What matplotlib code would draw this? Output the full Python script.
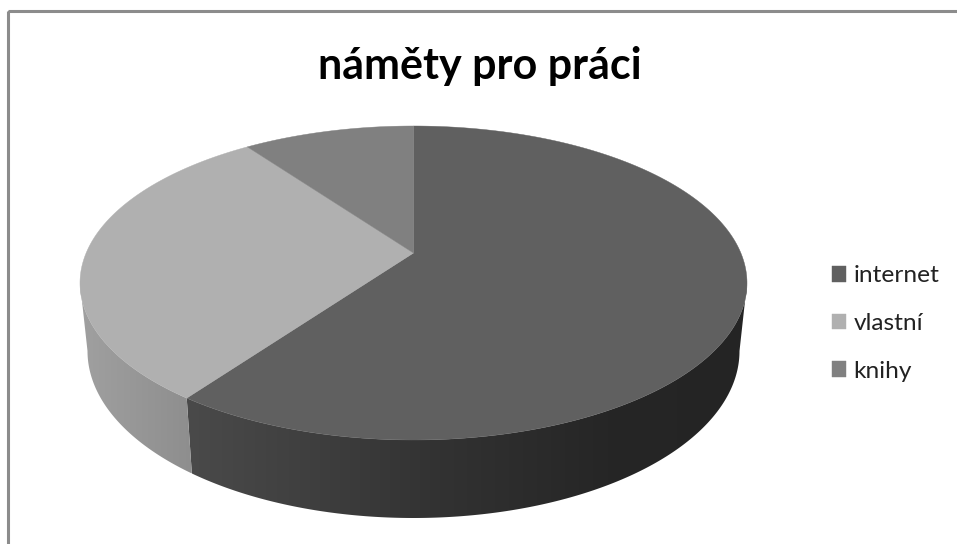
import numpy as np
import matplotlib
matplotlib.use("Agg")
import matplotlib.pyplot as plt
from matplotlib.colors import LinearSegmentedColormap
from matplotlib.patches import Polygon, Rectangle

title = "náměty pro práci"
categories = ["internet", "vlastní", "knihy"]
values = [61.9, 29.8, 8.3]
colors = ["#606060", "#b0b0b0", "#808080"]

W, H = 957, 544
fig = plt.figure(figsize=(W / 100, H / 100), dpi=100)
ax = fig.add_axes([0, 0, 1, 1])
ax.set_xlim(0, W)
ax.set_ylim(H, 0)
ax.axis("off")

# layout of the tilted pie, in pixels
cx, cy, rx, ry = 413.5, 283, 333.5, 157
apex = (413.5, 253)
bcx, bcy, brx, bry = 413.5, 351, 326, 167


def top(th):
    return cx + rx * np.sin(th), cy - ry * np.cos(th)


def bottom(th):
    return bcx + brx * np.sin(th), bcy - bry * np.cos(th)


fractions = np.array(values) / sum(values)
edges = np.concatenate([[0], np.cumsum(fractions)]) * 2 * np.pi

# side faces: gradients clipped to the wall regions
side_stops = {
    0: [(0.0, "#242424"), (0.25, "#262626"), (0.55, "#323232"), (0.8, "#404040"), (1.0, "#4a4a4a")],
    1: [(0.0, "#8e8e8e"), (1.0, "#a0a0a0")],
}
for i in (0, 1):
    a, b = edges[i], edges[i + 1]
    a = max(a, np.pi / 2)
    b = min(b, 3 * np.pi / 2)
    th = np.linspace(a, b, 240)
    tx, ty = top(th)
    bx, by = bottom(th)
    poly = np.column_stack([np.r_[tx, bx[::-1]], np.r_[ty, by[::-1]]])
    xmin, xmax = poly[:, 0].min(), poly[:, 0].max()
    ymin, ymax = poly[:, 1].min(), poly[:, 1].max()
    cmap = LinearSegmentedColormap.from_list(f"s{i}", side_stops[i])
    grad = np.linspace(1, 0, 256)[None, :]
    im = ax.imshow(grad, extent=[xmin, xmax, ymax, ymin], cmap=cmap, vmin=0, vmax=1,
                   aspect="auto", zorder=1, interpolation="bilinear")
    clip = Polygon(poly, closed=True, transform=ax.transData, fc="none", ec="none")
    ax.add_patch(clip)
    im.set_clip_path(clip)
ax.set_xlim(0, W)
ax.set_ylim(H, 0)

# top face
handles = []
for i, (name, col) in enumerate(zip(categories, colors)):
    th = np.linspace(edges[i], edges[i + 1], 300)
    tx, ty = top(th)
    h = ax.fill(np.r_[apex[0], tx], np.r_[apex[1], ty], fc=col, ec=col, lw=0.3, zorder=2,
                label=name)[0]
    handles.append(h)

# chart frame: only its top and left edges fall inside the picture
ax.add_patch(Rectangle((7.5, 10.5), 1100, 700, fc="none", ec="#8c8c8c", lw=2.2, zorder=5))

ax.text(480, 66, title, ha="center", va="center", fontsize=31, fontweight="bold",
        family="Lato", color="black")

leg = ax.legend(handles=handles, loc="upper left", bbox_to_anchor=(832 / W, 1 - 265.5 / H),
                frameon=False, prop={"family": "Lato", "size": 17.6}, labelcolor="#222222",
                handlelength=0.59, handleheight=0.59, handletextpad=0.29, labelspacing=1.09,
                borderpad=0, borderaxespad=0)

fig.savefig("out.png", dpi=100, facecolor="white")
